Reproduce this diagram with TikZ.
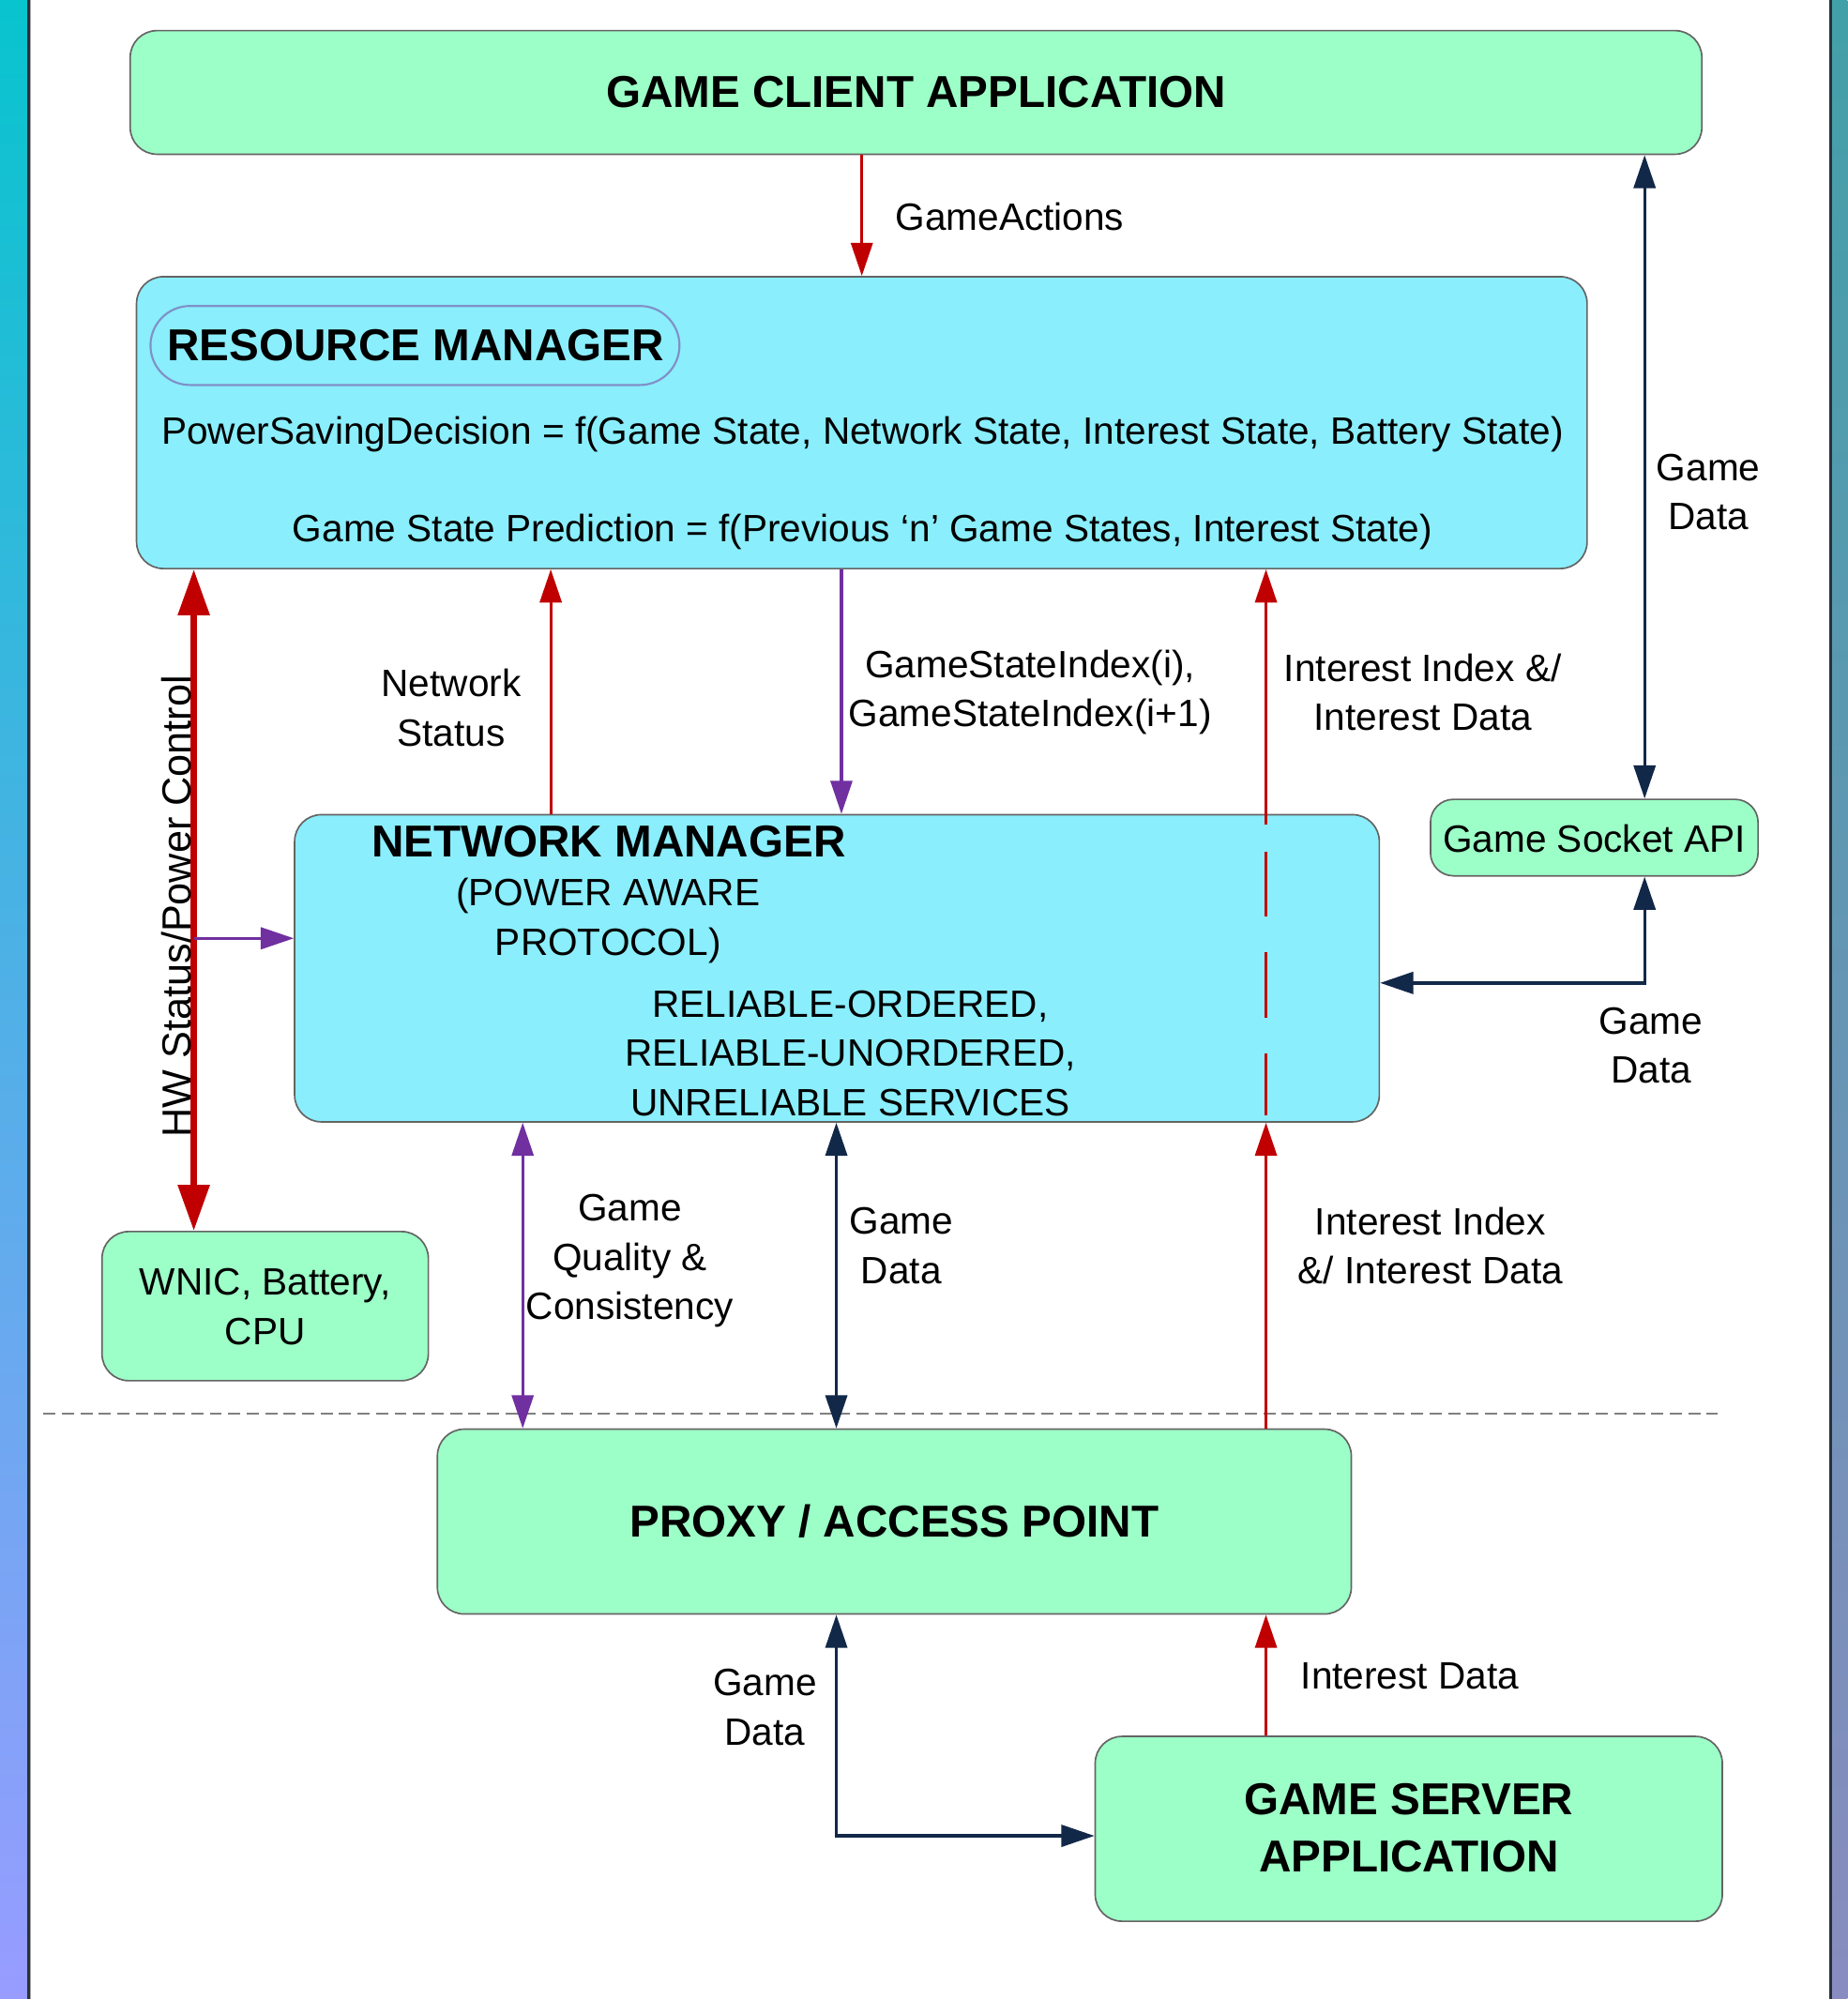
\documentclass[tikz,border=0pt]{standalone}
\usepackage{fontspec}
\setmainfont{Liberation Sans}
\usetikzlibrary{arrows.meta,calc}
\definecolor{mint}{RGB}{156,255,199}
\definecolor{cyanf}{RGB}{138,238,252}
\definecolor{boxline}{RGB}{100,100,100}
\definecolor{pillline}{RGB}{128,144,200}
\definecolor{redc}{RGB}{192,0,0}
\definecolor{navyc}{RGB}{18,40,72}
\definecolor{purpc}{RGB}{112,48,160}
\definecolor{sepc}{RGB}{128,128,128}
\definecolor{ltop}{RGB}{8,196,206}
\definecolor{lmid}{RGB}{62,180,224}
\definecolor{lbot}{RGB}{152,156,255}
\definecolor{rtop}{RGB}{66,160,168}
\definecolor{rmid}{RGB}{92,155,178}
\definecolor{rbot}{RGB}{137,140,192}
\definecolor{edgec}{RGB}{40,48,60}
\begin{document}
\begin{tikzpicture}[x=0.02cm,y=-0.02cm,
  >={Triangle[length=0.52cm,width=0.34cm]},
  box/.style={draw=boxline, line width=0.7pt, rounded corners=0.42cm, inner sep=0pt},
  mintbox/.style={box, fill=mint},
  cyanbox/.style={box, fill=cyanf},
  lbl/.style={font=\fontsize{17}{22}\selectfont, align=center, inner sep=0pt},
  ttl/.style={font=\fontsize{19.95}{25.6}\selectfont\bfseries, align=center, inner sep=0pt},
  redarr/.style={draw=redc, line width=1.3pt},
  navyarr/.style={draw=navyc, line width=1.4pt},
  purparr/.style={draw=purpc, line width=1.3pt},
  hwarr/.style={draw=redc, line width=2.9pt,
     {Triangle[length=0.72cm,width=0.48cm]}-{Triangle[length=0.72cm,width=0.48cm]}},
  sepline/.style={draw=sepc, line width=0.8pt, dash pattern=on 0.19cm off 0.1cm}
]
\useasboundingbox (0,0) rectangle (1449,1568);
% side bands
\shade[top color=ltop, middle color=lmid, bottom color=lbot] (0,0) rectangle (22.5,1568);
\shade[top color=rtop, middle color=rmid, bottom color=rbot] (1436,0) rectangle (1449,1568);
\draw[edgec, line width=1.2pt] (22.5,0) -- (22.5,1568);
\draw[gray!70, line width=0.5pt] (23.9,0) -- (23.9,1568);
\draw[edgec, line width=1.2pt] (1436,0) -- (1436,1568);

% boxes
\node[mintbox, minimum width=24.66cm, minimum height=1.94cm] (client) at (718.5,72.5) {};
\node[ttl] at (718.5,72) {GAME CLIENT APPLICATION};
\node[cyanbox, minimum width=22.76cm, minimum height=4.58cm] (rm) at (676,331.5) {};
\node[draw=pillline, line width=0.9pt, rounded corners=0.62cm, minimum width=8.3cm, minimum height=1.24cm, inner sep=0pt] (pill) at (325.5,271) {};
\node[ttl] (rmt) at (326,271) {RESOURCE MANAGER};
\node[lbl] (rm1) at (676.5,341) {PowerSavingDecision = f(Game State, Network State, Interest State, Battery State)};
\node[lbl] (rm2) at (676.5,417) {Game State Prediction = f(Previous ‘n’ Game States, Interest State)};

\node[cyanbox, minimum width=17.02cm, minimum height=4.82cm] (nm) at (656.5,759.5) {};
\node[mintbox, rounded corners=0.36cm, minimum width=5.14cm, minimum height=1.2cm] (sock) at (1250.5,657) {};
\node[lbl] at (1250.5,658) {Game Socket API};
\node[mintbox, minimum width=5.12cm, minimum height=2.34cm] (wnic) at (208,1024.5) {};
\node[lbl] at (208,1025) {WNIC, Battery,\\CPU};
\node[mintbox, minimum width=14.34cm, minimum height=2.9cm] (proxy) at (701.5,1193.5) {};
\node[ttl] at (701.5,1193) {PROXY / ACCESS POINT};
\node[mintbox, minimum width=9.84cm, minimum height=2.9cm] (server) at (1105,1434.5) {};
\node[ttl] at (1105,1434) {GAME SERVER\\APPLICATION};

% separator
\coordinate (sepL) at (34,1109);
\coordinate (sepR) at (1347,1109);
\draw[sepline] (sepL) -- (sepR);

% connectors
\draw[redarr,->] (676,0 |- client.south) -- (676,0 |- rm.north);
\node[lbl, anchor=west] at (702,170) {GameActions};

\draw[navyarr,<->] (1290,0 |- client.south) -- (1290,0 |- sock.north);
\node[lbl] at (1340,386) {Game\\Data};

\draw[navyarr,<->] (1290,0 |- sock.south) |- (nm.east |- 0,771);
\node[lbl] at (1295,820) {Game\\Data};

\draw[hwarr] (152,0 |- rm.south) -- (152,0 |- wnic.north);
\node[font=\fontsize{18.1}{22}\selectfont, rotate=90, anchor=base, inner sep=0pt] at (150,711) {HW Status/Power Control};
\coordinate (hwj) at (152,736);
\draw[purparr,->] (hwj) -- (nm.west |- 0,736);

\draw[redarr,->] (432,0 |- nm.north) -- (432,0 |- rm.south);
\node[lbl] at (354,555) {Network\\Status};

\draw[purparr,->] (660,0 |- rm.south) -- (660,0 |- nm.north);
\node[lbl] at (808,543) {GameStateIndex(i),\\GameStateIndex(i+1)};

\coordinate (intA) at (993,647);
\coordinate (intB) at (993,668);
\coordinate (intC) at (993,875);
\draw[redarr,->] (993,0 |- proxy.north) -- (993,0 |- nm.south);
\draw[redarr, dash pattern=on 1.02cm off 0.56cm] (intB) -- (intC);
\draw[redarr,->] (intA) -- (993,0 |- rm.south);
\node[lbl] at (1116,543) {Interest Index \&/\\Interest Data};
\node[lbl] at (1122,977) {Interest Index\\\&/ Interest Data};

\draw[purparr,<->] (410,0 |- nm.south) -- (410,0 |- proxy.north);
\node[lbl] at (494,989) {Game\\Quality \&\\Consistency};

\draw[navyarr,<->] (656,0 |- nm.south) -- (656,0 |- proxy.north);
\node[lbl] at (707,977) {Game\\Data};

\draw[navyarr,<->] (656,0 |- proxy.south) |- (server.west |- 0,1440);
\node[lbl] at (600,1339) {Game\\Data};

\draw[redarr,->] (993,0 |- server.north) -- (993,0 |- proxy.south);
\node[lbl, anchor=west] at (1020,1315) {Interest Data};

% network manager texts
\node[ttl] (nmt) at (477.5,660) {NETWORK MANAGER};
\node[lbl] (nm1) at (477,703) {(POWER AWARE};
\node[lbl] (nm2) at (477,742) {PROTOCOL)};
\node[lbl] (nm3) at (667,826) {RELIABLE-ORDERED,\\RELIABLE-UNORDERED,\\UNRELIABLE SERVICES};
\end{tikzpicture}
\end{document}
